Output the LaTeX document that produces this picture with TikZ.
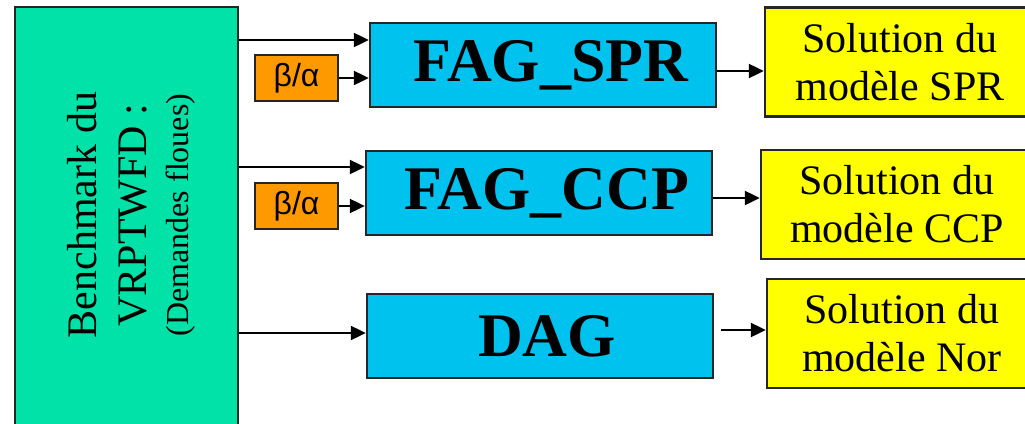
\documentclass[tikz,border=0pt]{standalone}
\usepackage{fontspec}
\setmainfont{Liberation Serif}
\newfontfamily\arialf{Liberation Sans}
\usetikzlibrary{arrows.meta}
\definecolor{benchgreen}{RGB}{0,226,168}
\definecolor{algblue}{RGB}{0,194,238}
\definecolor{paramorange}{RGB}{255,153,0}
\definecolor{solyellow}{RGB}{255,255,0}
\begin{document}
\begin{tikzpicture}[x=1pt,y=-1pt,
  box/.style={draw=black!85, line width=2.4pt, rectangle, inner sep=0pt},
  benchbox/.style={box, fill=benchgreen, minimum width=223pt, minimum height=438pt},
  algbox/.style={box, fill=algblue, minimum width=346pt, minimum height=84pt,
     font=\fontsize{62}{62}\selectfont\bfseries},
  parbox/.style={box, fill=paramorange, minimum width=83pt, minimum height=46pt,
     font=\arialf\fontsize{32}{32}\selectfont},
  solbox/.style={box, fill=solyellow, minimum height=109pt, align=center,
     font=\fontsize{42}{48}\selectfont},
  arr/.style={line width=2.2pt, -{Triangle[length=15pt 0 0,width=14pt 0 0]}}
]
\clip (0,0) rectangle (1025,423);
\fill[white] (0,0) rectangle (1025,423);

\node[benchbox] (bench) at (126.5,226) {};
\node[rotate=90, align=center, inner sep=0pt, font=\fontsize{42}{50}\selectfont] (benchtext) at (131,215)
  {Benchmark du\\VRPTWFD :\\[-8pt]{\fontsize{32}{38}\selectfont(Demandes floues)}};

\node[algbox] (fs) at (543,65) {\hspace*{16pt}FAG\_SPR};
\node[algbox] (fc) at (539,193) {\hspace*{16pt}FAG\_CCP};
\node[algbox] (dag) at (540,336) {\hspace*{14pt}DAG};

\node[parbox] (ba1) at (296.5,78) {β/α};
\node[parbox] (ba2) at (296.5,206) {β/α};

\node[solbox, minimum width=270pt] (ys) at (900,62) {Solution du\\modèle SPR};
\node[solbox, minimum width=272pt] (yc) at (897,204.5) {Solution du\\modèle CCP};
\node[solbox, minimum width=270pt] (yd) at (902,333.5) {Solution du\\modèle Nor};

\draw[arr] (bench.east |- 0,40) -- (fs.west |- 0,40);
\draw[arr] (ba1.east) -- (fs.west |- ba1.east);
\draw[arr] (bench.east |- 0,167) -- (fc.west |- 0,167);
\draw[arr] (ba2.east) -- (fc.west |- ba2.east);
\draw[arr] (bench.east |- 0,333) -- (dag.west |- 0,333);

\draw[arr] (fs.east |- 0,71) -- (ys.west |- 0,71);
\draw[arr] (fc.east |- 0,198) -- (yc.west |- 0,198);
\draw[arr] ([xshift=7pt]dag.east |- 0,330) -- (yd.west |- 0,330);
\end{tikzpicture}
\end{document}
